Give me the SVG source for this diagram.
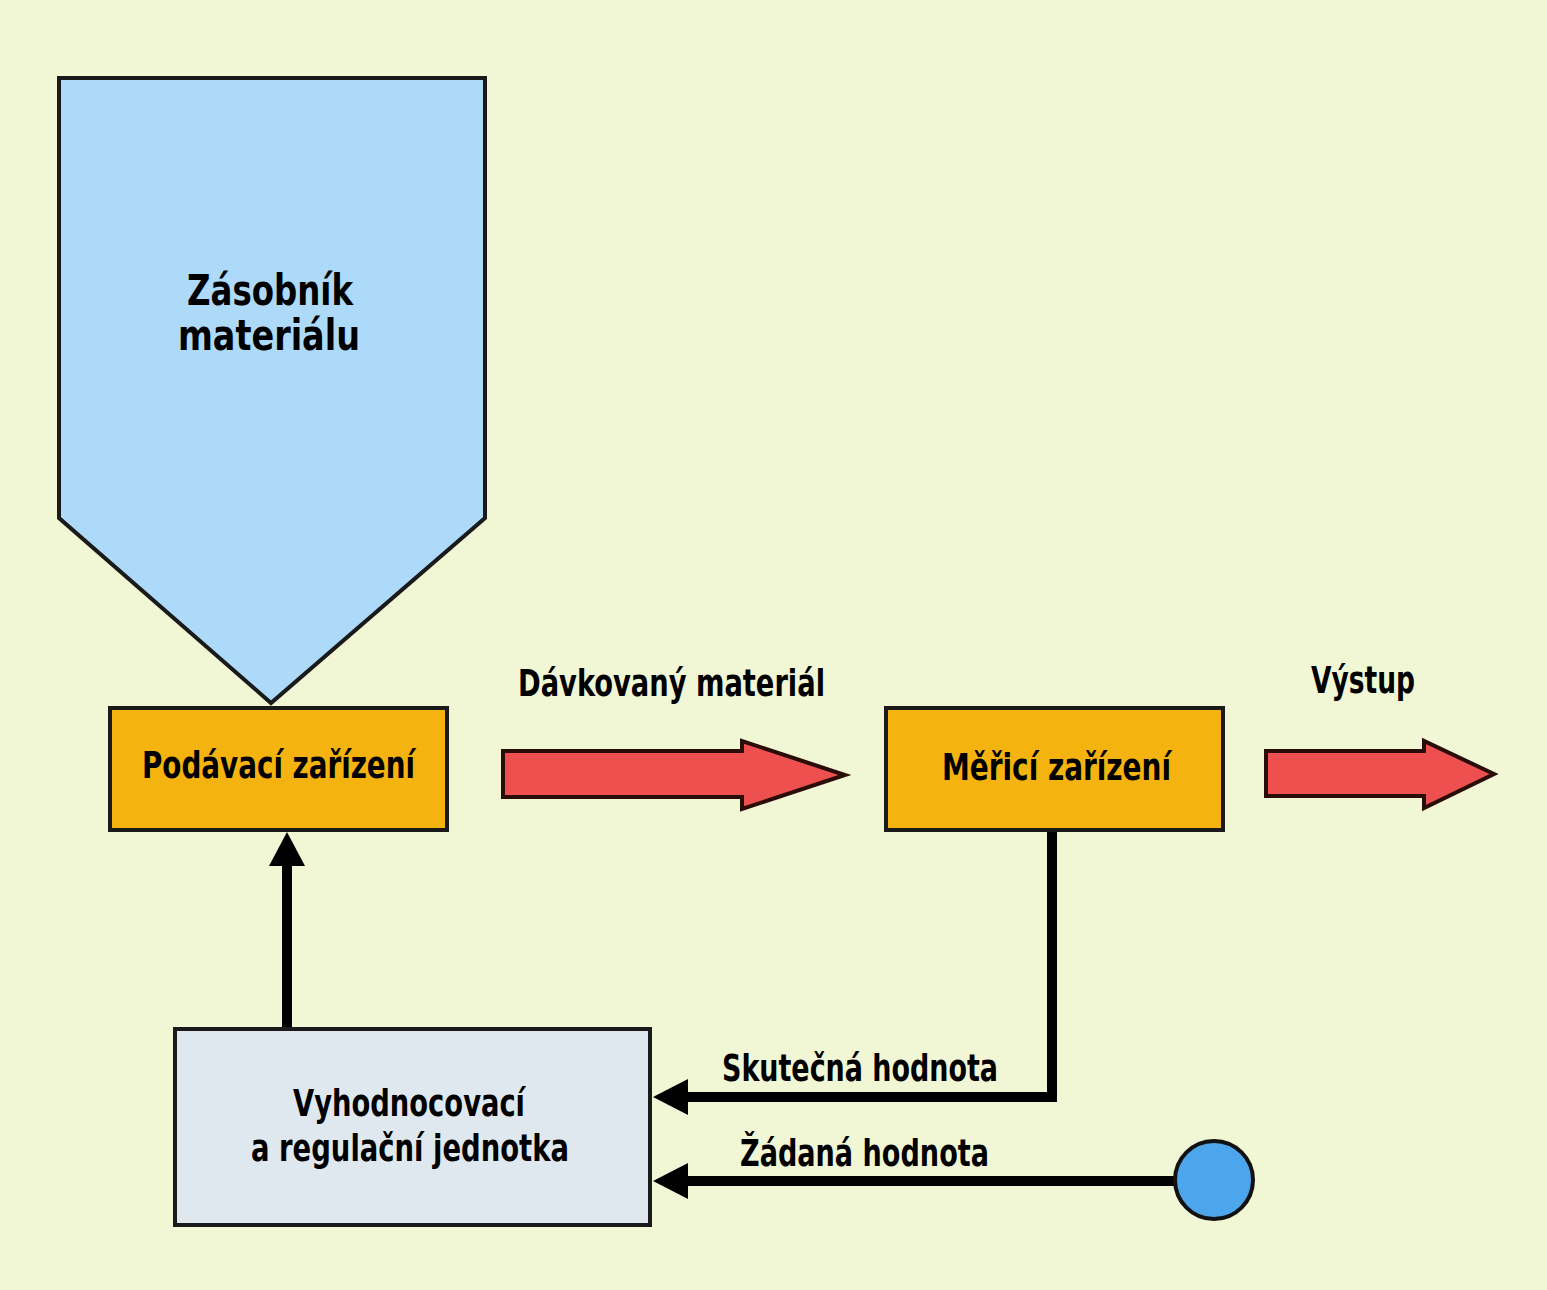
<svg xmlns="http://www.w3.org/2000/svg" width="1547" height="1290" viewBox="0 0 1547 1290">
<defs>
<style>
.t{font-family:"Liberation Sans Narrow","DejaVu Sans Condensed","Liberation Sans",sans-serif;font-weight:bold;fill:#000;}
.box{stroke:#1a1a1a;stroke-width:4;}
.orange{fill:#F4B30F;}
.red{fill:#EE5050;stroke:#2a0d08;stroke-width:4;stroke-linejoin:miter;}
.wire{fill:none;stroke:#000;stroke-width:10;}
</style>
</defs>
<rect width="1547" height="1290" fill="#F1F6D4"/>

<g id="connectors">
<polyline class="wire" points="287,1028 287,866" />
<path d="M269,866 L287,832 L305,866 Z" fill="#000"/>
<polyline class="wire" points="1052,830 1052,1097 688,1097" />
<path d="M688,1079 L653,1097 L688,1115 Z" fill="#000"/>
<polyline class="wire" points="1176,1181 688,1181" />
<path d="M688,1163 L653,1181 L688,1199 Z" fill="#000"/>
</g>

<g id="hopper">
<polygon class="box" points="59,78 485,78 485,518 271,703 59,518" fill="#ADDAF8"/>
<text class="t" x="187" y="305" font-size="42" textLength="166" lengthAdjust="spacingAndGlyphs">Zásobník</text>
<text class="t" x="178" y="350" font-size="42" textLength="182" lengthAdjust="spacingAndGlyphs">materiálu</text>
</g>

<g id="podavaci">
<rect class="box orange" x="110" y="708" width="337" height="122"/>
<text class="t" x="142" y="778" font-size="38" textLength="273" lengthAdjust="spacingAndGlyphs">Podávací zařízení</text>
</g>

<g id="merici">
<rect class="box orange" x="886" y="708" width="337" height="122"/>
<text class="t" x="942" y="780" font-size="38" textLength="229" lengthAdjust="spacingAndGlyphs">Měřicí zařízení</text>
</g>

<g id="vyhodnocovaci">
<rect class="box" x="175" y="1029" width="475" height="196" fill="#DFE8EE"/>
<text class="t" x="293" y="1116" font-size="38" textLength="232" lengthAdjust="spacingAndGlyphs">Vyhodnocovací</text>
<text class="t" x="251" y="1161" font-size="38" textLength="318" lengthAdjust="spacingAndGlyphs">a regulační jednotka</text>
</g>

<g id="arrow-davkovany">
<polygon class="red" points="503,751 742,751 742,741 845,775 742,809 742,797 503,797"/>
<text class="t" x="518" y="696" font-size="38" textLength="307" lengthAdjust="spacingAndGlyphs">Dávkovaný materiál</text>
</g>

<g id="arrow-vystup">
<polygon class="red" points="1266,751 1424,751 1424,741 1494,774 1424,808 1424,796 1266,796"/>
<text class="t" x="1311" y="693" font-size="38" textLength="104" lengthAdjust="spacingAndGlyphs">Výstup</text>
</g>

<g id="label-skutecna">
<text class="t" x="722" y="1081" font-size="38" textLength="276" lengthAdjust="spacingAndGlyphs">Skutečná hodnota</text>
</g>

<g id="label-zadana">
<text class="t" x="740" y="1166" font-size="38" textLength="249" lengthAdjust="spacingAndGlyphs">Žádaná hodnota</text>
</g>

<g id="setpoint">
<circle cx="1214" cy="1180" r="39" fill="#4DA6EC" stroke="#111" stroke-width="4"/>
</g>
</svg>
